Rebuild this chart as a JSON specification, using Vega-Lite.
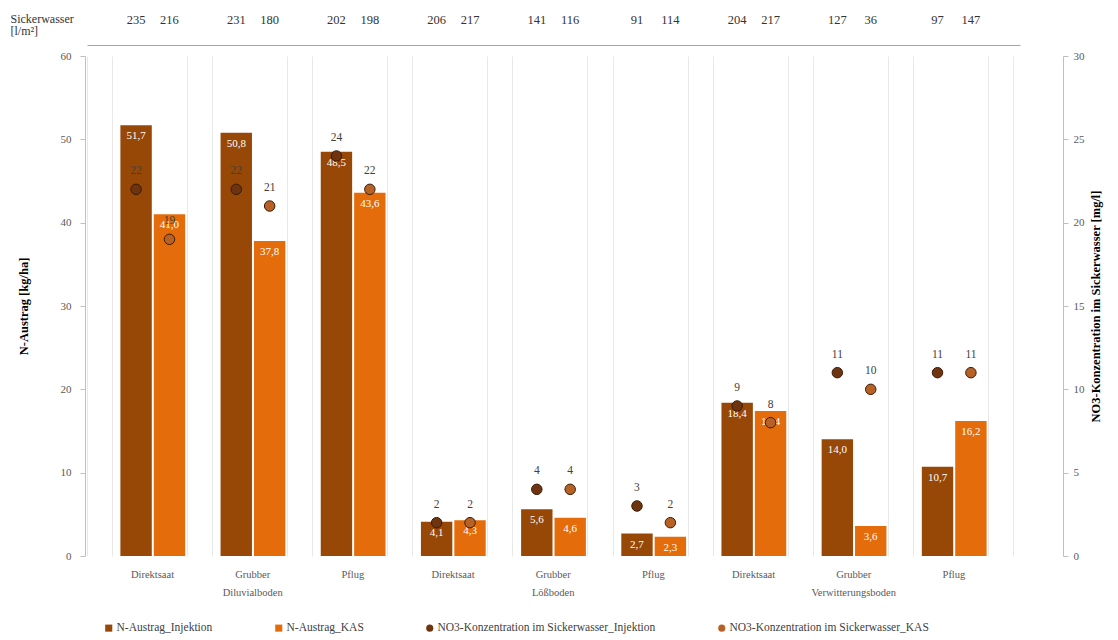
{
  "$schema": "https://vega.github.io/schema/vega-lite/v6.json",
  "width": 978,
  "height": 500,
  "autosize": {"type": "pad"},
  "padding": {"left": 10, "top": 12, "right": 5, "bottom": 5},
  "background": "white",
  "config": {
    "view": {"stroke": null},
    "font": "Liberation Serif",
    "locale": {"number": {"decimal": ",", "thousands": ".", "grouping": [3], "currency": ["", " €"]}},
    "axis": {"labelFont": "Liberation Serif", "titleFont": "Liberation Serif"},
    "legend": {"labelFont": "Liberation Serif"}
  },
  "data": {
    "values": [
      {"slot": "Diluvialboden|Direktsaat|Injektion|235", "n": 51.7, "no3": 22, "bar_series": "N-Austrag_Injektion", "no3_series": "NO3-Konzentration im Sickerwasser_Injektion"},
      {"slot": "Diluvialboden|Direktsaat|KAS|216", "n": 41.0, "no3": 19, "bar_series": "N-Austrag_KAS", "no3_series": "NO3-Konzentration im Sickerwasser_KAS"},
      {"slot": "Diluvialboden|Grubber|Injektion|231", "n": 50.8, "no3": 22, "bar_series": "N-Austrag_Injektion", "no3_series": "NO3-Konzentration im Sickerwasser_Injektion"},
      {"slot": "Diluvialboden|Grubber|KAS|180", "n": 37.8, "no3": 21, "bar_series": "N-Austrag_KAS", "no3_series": "NO3-Konzentration im Sickerwasser_KAS"},
      {"slot": "Diluvialboden|Pflug|Injektion|202", "n": 48.5, "no3": 24, "bar_series": "N-Austrag_Injektion", "no3_series": "NO3-Konzentration im Sickerwasser_Injektion"},
      {"slot": "Diluvialboden|Pflug|KAS|198", "n": 43.6, "no3": 22, "bar_series": "N-Austrag_KAS", "no3_series": "NO3-Konzentration im Sickerwasser_KAS"},
      {"slot": "Lößboden|Direktsaat|Injektion|206", "n": 4.1, "no3": 2, "bar_series": "N-Austrag_Injektion", "no3_series": "NO3-Konzentration im Sickerwasser_Injektion"},
      {"slot": "Lößboden|Direktsaat|KAS|217", "n": 4.3, "no3": 2, "bar_series": "N-Austrag_KAS", "no3_series": "NO3-Konzentration im Sickerwasser_KAS"},
      {"slot": "Lößboden|Grubber|Injektion|141", "n": 5.6, "no3": 4, "bar_series": "N-Austrag_Injektion", "no3_series": "NO3-Konzentration im Sickerwasser_Injektion"},
      {"slot": "Lößboden|Grubber|KAS|116", "n": 4.6, "no3": 4, "bar_series": "N-Austrag_KAS", "no3_series": "NO3-Konzentration im Sickerwasser_KAS"},
      {"slot": "Lößboden|Pflug|Injektion|91", "n": 2.7, "no3": 3, "bar_series": "N-Austrag_Injektion", "no3_series": "NO3-Konzentration im Sickerwasser_Injektion"},
      {"slot": "Lößboden|Pflug|KAS|114", "n": 2.3, "no3": 2, "bar_series": "N-Austrag_KAS", "no3_series": "NO3-Konzentration im Sickerwasser_KAS"},
      {"slot": "Verwitterungsboden|Direktsaat|Injektion|204", "n": 18.4, "no3": 9, "bar_series": "N-Austrag_Injektion", "no3_series": "NO3-Konzentration im Sickerwasser_Injektion"},
      {"slot": "Verwitterungsboden|Direktsaat|KAS|217", "n": 17.4, "no3": 8, "bar_series": "N-Austrag_KAS", "no3_series": "NO3-Konzentration im Sickerwasser_KAS"},
      {"slot": "Verwitterungsboden|Grubber|Injektion|127", "n": 14.0, "no3": 11, "bar_series": "N-Austrag_Injektion", "no3_series": "NO3-Konzentration im Sickerwasser_Injektion"},
      {"slot": "Verwitterungsboden|Grubber|KAS|36", "n": 3.6, "no3": 10, "bar_series": "N-Austrag_KAS", "no3_series": "NO3-Konzentration im Sickerwasser_KAS"},
      {"slot": "Verwitterungsboden|Pflug|Injektion|97", "n": 10.7, "no3": 11, "bar_series": "N-Austrag_Injektion", "no3_series": "NO3-Konzentration im Sickerwasser_Injektion"},
      {"slot": "Verwitterungsboden|Pflug|KAS|147", "n": 16.2, "no3": 11, "bar_series": "N-Austrag_KAS", "no3_series": "NO3-Konzentration im Sickerwasser_KAS"}
    ]
  },
  "resolve": {"scale": {"y": "independent"}, "axis": {"x": "independent", "y": "independent"}},
  "layer": [
    {
      "mark": {"type": "bar"},
      "encoding": {
        "x": {
          "field": "slot", "type": "nominal", "sort": null,
          "scale": {"type": "band", "paddingInner": 0.06, "paddingOuter": 0, "range": [2, 935],
            "domain": ["gapL",
              "Diluvialboden|Direktsaat|Injektion|235", "Diluvialboden|Direktsaat|KAS|216", "gap0",
              "Diluvialboden|Grubber|Injektion|231", "Diluvialboden|Grubber|KAS|180", "gap1",
              "Diluvialboden|Pflug|Injektion|202", "Diluvialboden|Pflug|KAS|198", "gap2",
              "Lößboden|Direktsaat|Injektion|206", "Lößboden|Direktsaat|KAS|217", "gap3",
              "Lößboden|Grubber|Injektion|141", "Lößboden|Grubber|KAS|116", "gap4",
              "Lößboden|Pflug|Injektion|91", "Lößboden|Pflug|KAS|114", "gap5",
              "Verwitterungsboden|Direktsaat|Injektion|204", "Verwitterungsboden|Direktsaat|KAS|217", "gap6",
              "Verwitterungsboden|Grubber|Injektion|127", "Verwitterungsboden|Grubber|KAS|36", "gap7",
              "Verwitterungsboden|Pflug|Injektion|97", "Verwitterungsboden|Pflug|KAS|147", "gap8"]},
          "axis": {
            "orient": "bottom", "title": null, "domain": false, "ticks": false, "grid": false,
            "labelAngle": 0, "labelPadding": 13, "labelBaseline": "top", "labelOffset": -17,
            "labelFontSize": 10.5, "labelColor": "#595959", "labelLineHeight": 18,
            "values": ["Diluvialboden|Direktsaat|KAS|216", "Diluvialboden|Grubber|KAS|180", "Diluvialboden|Pflug|KAS|198",
              "Lößboden|Direktsaat|KAS|217", "Lößboden|Grubber|KAS|116", "Lößboden|Pflug|KAS|114",
              "Verwitterungsboden|Direktsaat|KAS|217", "Verwitterungsboden|Grubber|KAS|36", "Verwitterungsboden|Pflug|KAS|147"],
            "labelExpr": "split(datum.value,'|')[1] == 'Grubber' ? ['Grubber', split(datum.value,'|')[0]] : split(datum.value,'|')[1]"
          }
        },
        "y": {
          "field": "n", "type": "quantitative",
          "scale": {"domain": [0, 60], "nice": false},
          "axis": {
            "orient": "left", "title": "N-Austrag [kg/ha]", "values": [0, 10, 20, 30, 40, 50, 60],
            "grid": false, "domainColor": "#bfbfbf", "tickColor": "#bfbfbf", "tickSize": 5,
            "labelFontSize": 11, "labelColor": "#595959", "labelPadding": 9,
            "titleFontSize": 12.5, "titleFontWeight": "bold", "titleColor": "#000000", "titlePadding": 30
          }
        },
        "color": {
          "field": "bar_series", "type": "nominal",
          "scale": {
            "domain": ["N-Austrag_Injektion", "N-Austrag_KAS", "NO3-Konzentration im Sickerwasser_Injektion", "NO3-Konzentration im Sickerwasser_KAS"],
            "range": ["#974706", "#E46C0A", "#6E3410", "#B86125"]
          },
          "legend": {
            "title": null, "orient": "none", "direction": "horizontal", "legendX": 18, "legendY": 566,
            "labelFontSize": 11.5, "labelColor": "#404040", "symbolSize": 50, "columnPadding": 60,
            "labelOffset": 2, "labelLimit": 500,
            "encode": {"symbols": {"update": {
              "shape": {"signal": "datum.value == 'N-Austrag_Injektion' || datum.value == 'N-Austrag_KAS' ? 'square' : 'circle'"}
            }}}
          }
        }
      }
    },
    {
      "mark": {"type": "text", "baseline": "top", "dy": 5, "color": "white", "fontSize": 11},
      "encoding": {
        "x": {
          "field": "slot", "type": "nominal", "sort": null,
          "axis": {
            "orient": "top", "offset": 11, "domain": true, "domainColor": "#a6a6a6", "ticks": false, "grid": false,
            "labelAngle": 0, "labelPadding": 19, "labelFontSize": 12.5, "labelColor": "#333333",
            "values": ["Diluvialboden|Direktsaat|Injektion|235", "Diluvialboden|Direktsaat|KAS|216",
              "Diluvialboden|Grubber|Injektion|231", "Diluvialboden|Grubber|KAS|180",
              "Diluvialboden|Pflug|Injektion|202", "Diluvialboden|Pflug|KAS|198",
              "Lößboden|Direktsaat|Injektion|206", "Lößboden|Direktsaat|KAS|217",
              "Lößboden|Grubber|Injektion|141", "Lößboden|Grubber|KAS|116",
              "Lößboden|Pflug|Injektion|91", "Lößboden|Pflug|KAS|114",
              "Verwitterungsboden|Direktsaat|Injektion|204", "Verwitterungsboden|Direktsaat|KAS|217",
              "Verwitterungsboden|Grubber|Injektion|127", "Verwitterungsboden|Grubber|KAS|36",
              "Verwitterungsboden|Pflug|Injektion|97", "Verwitterungsboden|Pflug|KAS|147"],
            "labelExpr": "split(datum.value,'|')[3]",
            "title": ["Sickerwasser", "[l/m²]"], "titleX": -75, "titleY": -32, "titleAlign": "left",
            "titleBaseline": "top", "titleAngle": 0, "titleFontSize": 12, "titleFontWeight": "normal",
            "titleColor": "#333333", "titleLineHeight": 12
          }
        },
        "y": {"field": "n", "type": "quantitative", "scale": {"domain": [0, 60], "nice": false}, "axis": null},
        "text": {"field": "n", "type": "quantitative", "format": ".1f"}
      }
    },
    {
      "mark": {"type": "point", "filled": true, "size": 110, "stroke": "#3a1a05", "strokeWidth": 1, "opacity": 1},
      "encoding": {
        "x": {
          "field": "slot", "type": "nominal", "sort": null,
          "axis": {"orient": "bottom", "labels": false, "ticks": false, "domain": false, "title": null,
            "grid": true, "gridColor": "#e8e8e8", "bandPosition": 0,
            "values": ["gapL", "gap0", "gap1", "gap2", "gap3", "gap4", "gap5", "gap6", "gap7", "gap8"]}
        },
        "y": {
          "field": "no3", "type": "quantitative",
          "scale": {"domain": [0, 30], "nice": false},
          "axis": {
            "orient": "right", "title": "NO3-Konzentration im Sickerwasser [mg/l]", "values": [0, 5, 10, 15, 20, 25, 30],
            "grid": false, "domainColor": "#bfbfbf", "tickColor": "#bfbfbf", "tickSize": 5,
            "labelFontSize": 11, "labelColor": "#595959", "labelPadding": 5,
            "titleFontSize": 12.5, "titleFontWeight": "bold", "titleColor": "#000000", "titlePadding": 18, "titleAngle": 270
          }
        },
        "color": {
          "field": "no3_series", "type": "nominal",
          "scale": {
            "domain": ["N-Austrag_Injektion", "N-Austrag_KAS", "NO3-Konzentration im Sickerwasser_Injektion", "NO3-Konzentration im Sickerwasser_KAS"],
            "range": ["#974706", "#E46C0A", "#6E3410", "#B86125"]
          }
        }
      }
    },
    {
      "mark": {"type": "text", "baseline": "middle", "dy": -18, "color": "#404040", "fontSize": 11.5},
      "encoding": {
        "x": {
          "field": "slot", "type": "nominal", "sort": null,
          "axis": {"orient": "bottom", "labels": false, "ticks": false, "domain": false, "title": null,
            "grid": true, "gridColor": "#e8e8e8", "bandPosition": 0.8,
            "values": ["gapL", "gap0", "gap1", "gap2", "gap3", "gap4", "gap5", "gap6", "gap7", "gap8"]}
        },
        "y": {"field": "no3", "type": "quantitative", "scale": {"domain": [0, 30], "nice": false}, "axis": null},
        "text": {"field": "no3", "type": "quantitative", "format": "d"}
      }
    }
  ]
}
